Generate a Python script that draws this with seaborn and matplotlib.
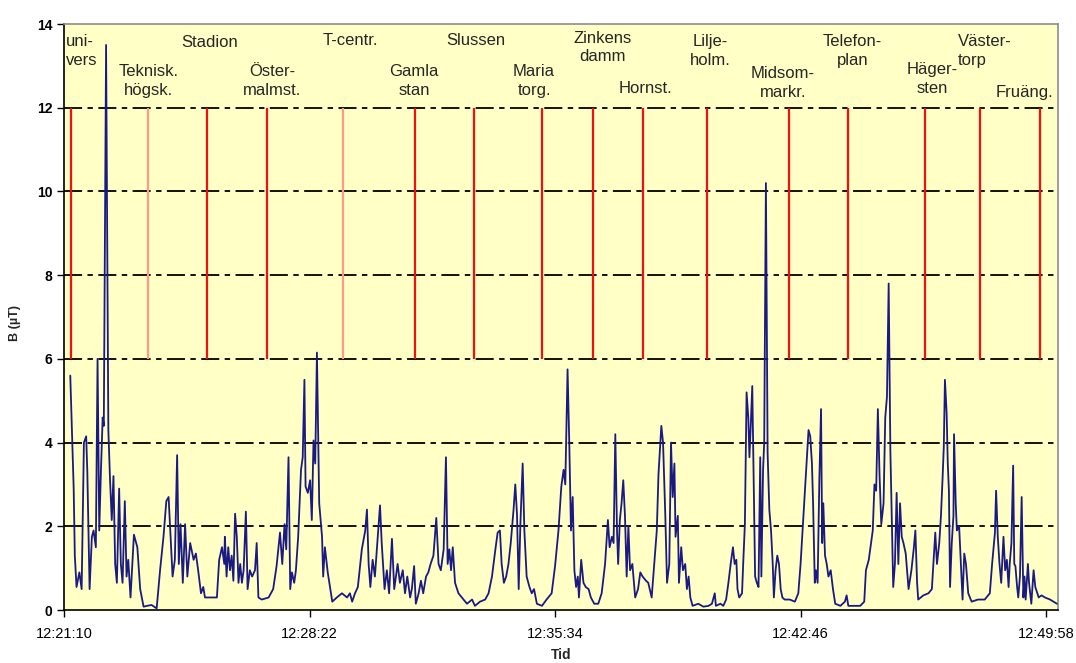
import numpy as np
import seaborn as sns
import matplotlib.pyplot as plt

sns.set_style("white")
plt.rcParams['font.family'] = ['Liberation Sans', 'DejaVu Sans']

# elapsed seconds since 12:21:10 and magnetic field B (uT)
t_univ_stadion = [11, 15, 17, 19, 22, 27, 31, 35, 39, 41, 45, 49, 52, 56, 59,
                  62, 65, 68, 70, 74, 78, 81, 84, 87, 90, 93, 97, 100, 103, 107,
                  110, 113, 117, 123, 129, 134, 140, 146, 154, 163, 169, 175, 180, 184, 187,
                  191, 195, 199, 202, 205, 209, 213, 217, 222, 228, 232, 236, 241, 245, 248,
                  269, 273, 278, 282]
b_univ_stadion = [5.6, 3.8, 2.9, 1.3, 0.55, 0.9, 0.5, 4.0, 4.15, 3.3, 0.5, 1.75, 1.9, 1.5, 6.0,
                  1.9, 3.35, 4.6, 4.4, 13.5, 4.3, 3.1, 2.15, 3.2, 1.1, 0.65, 2.9, 1.1, 0.65, 2.6,
                  0.8, 1.2, 0.3, 1.8, 1.5, 0.5, 0.08, 0.1, 0.12, 0.04, 0.95, 1.75, 2.6, 2.7, 1.9,
                  0.8, 1.2, 3.7, 1.1, 2.05, 0.65, 2.05, 0.8, 1.6, 1.2, 1.35, 0.95, 0.4, 0.55, 0.3,
                  0.3, 1.2, 1.5, 1.1]

t_ostermalm_tcentr = [283, 286, 289, 292, 295, 298, 301, 304, 307, 310, 313, 316, 320, 323, 327,
                      331, 336, 339, 342, 348, 360, 368, 374, 380, 384, 388, 391, 395, 398, 401,
                      405, 408, 412, 417, 420, 423, 425, 429, 433, 436, 439, 442, 445, 447, 449,
                      454, 456, 459, 464, 468, 472, 480, 489, 498, 503, 507, 512, 517, 524, 530,
                      533, 536, 539, 543, 547, 552, 556, 559, 564, 568]
b_ostermalm_tcentr = [1.75, 0.8, 1.5, 0.95, 1.3, 0.7, 2.3, 1.75, 0.65, 1.1, 0.65, 0.95, 2.35, 0.5, 0.95,
                      0.8, 0.95, 1.6, 0.3, 0.25, 0.3, 0.5, 1.05, 1.85, 1.1, 2.05, 1.45, 3.65, 0.5, 0.9,
                      0.65, 0.95, 1.75, 3.35, 3.65, 5.5, 2.95, 2.8, 3.1, 2.15, 4.05, 3.5, 6.15, 4.3, 2.55,
                      1.75, 0.8, 1.5, 0.9, 0.55, 0.2, 0.3, 0.4, 0.3, 0.4, 0.2, 0.4, 0.55, 1.45, 1.9,
                      2.4, 1.1, 0.55, 1.2, 0.8, 1.75, 2.5, 1.6, 0.5, 0.95]

t_gamla_maria = [572, 577, 581, 587, 591, 596, 600, 604, 609, 612, 616, 619, 624, 628, 632,
                 637, 641, 645, 650, 655, 659, 663, 668, 672, 675, 678, 681, 684, 688, 694,
                 700, 709, 718, 723, 732, 741, 747, 753, 759, 763, 767, 770, 774, 778, 782,
                 786, 791, 794, 797, 800, 803, 807, 810, 814, 819, 823, 827, 832, 841, 849,
                 858, 864]
b_gamla_maria = [0.4, 1.7, 0.5, 1.1, 0.65, 0.95, 0.4, 0.8, 0.3, 0.5, 1.05, 0.15, 0.4, 0.7, 0.4,
                 0.8, 0.9, 1.1, 1.3, 2.2, 1.1, 0.95, 1.45, 3.65, 1.1, 1.45, 0.95, 1.5, 0.65, 0.4,
                 0.3, 0.15, 0.25, 0.1, 0.2, 0.25, 0.4, 0.8, 1.45, 1.85, 1.9, 1.1, 0.65, 0.8, 1.1,
                 1.6, 2.4, 3.0, 2.3, 0.5, 2.05, 3.5, 1.9, 0.8, 0.55, 0.4, 0.5, 0.15, 0.1, 0.25,
                 0.4, 1.05]

t_zinkens_lilje = [870, 875, 879, 882, 886, 889, 892, 895, 898, 901, 904, 906, 910, 914, 918,
                   923, 927, 933, 940, 946, 952, 957, 960, 964, 967, 970, 973, 975, 978, 981,
                   984, 987, 990, 993, 996, 1000, 1005, 1010, 1014, 1018, 1024, 1028, 1034, 1039, 1043,
                   1046, 1051, 1054, 1058, 1061, 1065, 1068, 1071, 1074, 1076, 1080, 1082, 1086, 1089, 1093,
                   1096, 1099, 1102, 1106, 1116, 1125, 1134, 1140, 1145, 1147, 1155]
b_zinkens_lilje = [1.9, 2.95, 3.35, 3.0, 5.75, 4.0, 1.9, 2.7, 0.95, 0.55, 0.8, 0.3, 1.2, 0.65, 0.55,
                   0.5, 0.3, 0.15, 0.15, 0.4, 1.1, 2.15, 1.5, 1.75, 1.6, 4.2, 1.9, 1.1, 2.15, 2.55,
                   3.1, 2.25, 0.8, 2.0, 0.95, 1.1, 0.3, 0.5, 0.9, 0.8, 0.7, 0.65, 0.3, 1.2, 1.9,
                   3.25, 4.4, 4.0, 2.25, 0.65, 1.1, 4.0, 2.7, 3.5, 1.75, 2.25, 0.65, 1.5, 0.95, 1.1,
                   0.5, 0.8, 0.3, 0.1, 0.15, 0.08, 0.1, 0.15, 0.4, 0.1, 0.15]

t_midsom_telefon = [1160, 1165, 1169, 1173, 1177, 1180, 1183, 1185, 1188, 1193, 1195, 1198, 1201, 1204, 1206,
                    1208, 1211, 1213, 1216, 1219, 1222, 1225, 1227, 1230, 1232, 1235, 1238, 1241, 1244, 1247,
                    1249, 1252, 1255, 1258, 1261, 1264, 1268, 1277, 1286, 1292, 1296, 1301, 1305, 1310, 1313,
                    1316, 1318, 1321, 1323, 1326, 1329, 1332, 1334, 1336, 1339, 1342, 1345, 1349, 1353, 1357,
                    1366, 1374, 1377, 1380, 1389, 1401, 1408, 1411, 1416, 1420, 1423, 1426, 1429, 1432, 1435,
                    1438, 1442, 1445, 1448, 1451, 1454]
b_midsom_telefon = [0.1, 0.25, 0.65, 1.1, 1.5, 1.1, 1.2, 0.5, 0.3, 0.4, 1.1, 2.05, 5.2, 4.6, 3.65,
                    4.3, 5.35, 3.5, 0.8, 0.65, 0.55, 3.65, 0.8, 3.35, 4.0, 10.2, 3.75, 2.4, 1.9, 1.1,
                    0.3, 0.95, 1.3, 1.1, 0.5, 0.3, 0.25, 0.25, 0.2, 0.4, 1.1, 2.25, 3.2, 4.3, 4.15,
                    3.5, 2.55, 0.65, 0.95, 0.65, 3.1, 4.8, 1.6, 2.55, 1.3, 1.1, 0.8, 0.95, 0.5, 0.15,
                    0.1, 0.2, 0.35, 0.1, 0.1, 0.1, 0.2, 0.95, 1.2, 1.6, 1.9, 3.0, 2.85, 4.8, 3.2,
                    2.05, 2.55, 4.6, 5.1, 7.8, 3.8]

t_hager_fruang = [1457, 1459, 1462, 1465, 1468, 1471, 1474, 1477, 1481, 1486, 1491, 1495, 1498, 1501, 1503,
                  1512, 1521, 1527, 1533, 1536, 1540, 1543, 1546, 1548, 1550, 1553, 1555, 1557, 1559, 1562,
                  1565, 1566, 1569, 1571, 1575, 1578, 1581, 1584, 1587, 1591, 1597, 1608, 1620, 1629, 1633,
                  1638, 1640, 1643, 1646, 1649, 1653, 1656, 1659, 1662, 1664, 1667, 1670, 1672, 1674, 1677,
                  1679, 1682, 1685, 1688, 1690, 1692, 1696, 1698, 1702, 1706, 1709, 1715, 1720, 1726, 1735,
                  1741, 1747]
b_hager_fruang = [1.9, 0.55, 1.1, 2.8, 1.1, 2.55, 1.75, 1.6, 1.35, 0.5, 0.95, 1.45, 1.9, 0.65, 0.25,
                  0.35, 0.4, 0.5, 1.85, 1.1, 1.6, 2.25, 3.2, 3.9, 5.5, 4.7, 3.5, 2.85, 0.55, 1.6,
                  2.25, 4.2, 2.55, 1.9, 2.0, 1.1, 0.25, 1.35, 1.1, 0.4, 0.2, 0.25, 0.25, 0.4, 1.1,
                  1.85, 2.85, 1.75, 1.1, 0.65, 1.75, 0.95, 1.2, 0.55, 1.1, 1.6, 3.45, 1.1, 1.05, 0.55,
                  0.3, 0.8, 2.7, 0.3, 0.8, 0.25, 1.1, 0.65, 0.15, 0.95, 0.55, 0.3, 0.35, 0.3, 0.25,
                  0.2, 0.15]

# station passages (elapsed s)
station_names = ["uni-\nvers", "Teknisk.\nhögsk.", "Stadion", "Öster-\nmalmst.", "T-centr.",
                 "Gamla\nstan", "Slussen", "Maria\ntorg.", "Zinkens\ndamm", "Hornst.",
                 "Lilje-\nholm.", "Midsom-\nmarkr.", "Telefon-\nplan", "Häger-\nsten",
                 "Väster-\ntorp", "Fruäng."]
station_times = [12, 148, 252, 357, 491, 618, 722, 841, 931, 1019,
                 1132, 1276, 1380, 1515, 1612, 1718]
faded = [False, True, False, False, True, False, False, False, False, False,
         False, False, False, False, False, False]

tick_secs = [0, 432, 864, 1296, 1728]
tick_labels = ["12:21:10", "12:28:22", "12:35:34", "12:42:46", "12:49:58"]

elapsed = (t_univ_stadion + t_ostermalm_tcentr + t_gamla_maria + t_zinkens_lilje
           + t_midsom_telefon + t_hager_fruang)
b_field = (b_univ_stadion + b_ostermalm_tcentr + b_gamla_maria + b_zinkens_lilje
           + b_midsom_telefon + b_hager_fruang)
assert len(elapsed) == len(b_field)

fig = plt.figure(figsize=(10.76, 6.63), dpi=100)
ax = fig.add_axes([0.0595, 0.0799, 0.9238, 0.8839])
ax.set_facecolor('#ffffc6')
ax.set_axisbelow(True)

# station markers
for t, f in zip(station_times, faded):
    ax.vlines(t, 6, 12, colors='#ff9a8a' if f else '#f01010', lw=1.6, zorder=2)

sns.lineplot(x=elapsed, y=b_field, ax=ax, color='#1a1a82', lw=1.3,
             estimator=None, sort=False, zorder=3)

ax.set_xlim(0, 1749)
ax.set_ylim(0, 14)
ax.set_yticks(range(0, 15, 2))
ax.set_xticks(tick_secs)
ax.set_xticklabels(tick_labels)
ax.grid(axis='y', color='black', lw=1.3, ls=(0, (10, 3, 3, 3)))
gl = ax.get_ygridlines()
gl[0].set_visible(False)
gl[-1].set_visible(False)

ax.tick_params(direction='out', length=5, width=1, colors='black', labelsize=10.5,
               bottom=True, left=True)
ax.tick_params(axis='x', pad=7)
ax.tick_params(axis='y', labelsize=10)
for lab in ax.get_yticklabels():
    lab.set_fontweight('bold')
for side in ['left', 'bottom']:
    ax.spines[side].set_color('black')
    ax.spines[side].set_linewidth(1.2)
for side in ['top', 'right']:
    ax.spines[side].set_color('#8c8c8c')
    ax.spines[side].set_linewidth(1.2)

ax.set_xlabel('Tid', fontsize=10, fontweight='bold', labelpad=5)
ax.set_ylabel('B (µT)', fontsize=9, fontweight='bold', labelpad=16)
ax.yaxis.set_label_coords(-0.043, 0.49)

# station name labels
label_x = [4, 148, 257, 366, 503, 616, 725, 827, 947, 1023,
           1137, 1265, 1387, 1528, 1573, 1690]
label_y = [13.35, 12.64, 13.55, 12.64, 13.6, 12.64, 13.6, 12.64, 13.44, 12.47,
           13.35, 12.59, 13.35, 12.69, 13.35, 12.37]
for name, x, y in zip(station_names, label_x, label_y):
    ha = 'left' if name.startswith(('uni', 'Väster')) else 'center'
    ax.text(x, y, name, ha=ha, va='center', fontsize=12, linespacing=1.3, zorder=4)

fig.savefig('out.png', dpi=100)
